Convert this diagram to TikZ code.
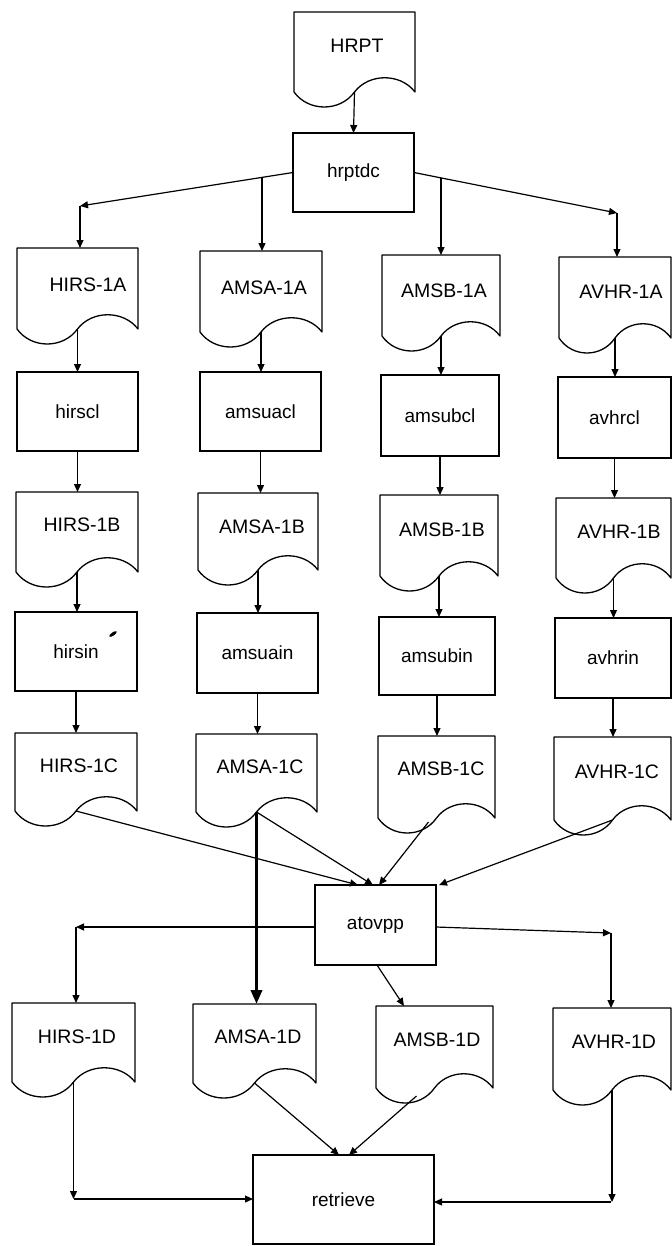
\documentclass[tikz,border=0pt]{standalone}
\usepackage{fontspec}
\setsansfont{Liberation Sans}
\usetikzlibrary{arrows.meta,calc}
\tikzset{
  shapeline/.style={line width=1.3bp, draw=black, line join=round},
  anchorbox/.style={inner sep=0pt, outer sep=0pt, rectangle},
  lbl/.style={font=\sffamily\fontsize{19.5bp}{22bp}\selectfont, inner sep=0pt},
  procbox/.style={draw=black, line width=1.3bp, inner sep=0pt, outer sep=0pt, rectangle,
                  font=\sffamily\fontsize{19bp}{22bp}\selectfont},
  arr/.style={line width=1.2bp, -{Triangle[length=8bp,width=7bp]}},
  thickarr/.style={line width=3.6bp, -{Triangle[length=14bp,width=11bp]}},
}
% document shape: name, L, T, R, B, text x, text y, text
\newcommand{\docnode}[8]{%
  \pgfmathsetmacro{\dw}{#4-#2}%
  \pgfmathsetmacro{\dh}{#5-#3}%
  \draw[shapeline] (#2,#3) -- (#4,#3) -- (#4,#5)
     .. controls ({#4-0.12*\dw},{#5-19}) and ({#4-0.38*\dw},{#5-19}) .. ({#2+0.5*\dw},{#5})
     .. controls ({#2+0.38*\dw},{#5+20}) and ({#2+0.12*\dw},{#5+20}) .. (#2,#5) -- cycle;
  \node[anchorbox, minimum width=\dw bp, minimum height=\dh bp] (#1) at ({(#2+#4)/2},{(#3+#5)/2}) {};
  \node[lbl] at (#6,#7) {#8};
}
% process box: name, L, T, R, B, text
\newcommand{\procnode}[6]{%
  \pgfmathsetmacro{\dw}{#4-#2}%
  \pgfmathsetmacro{\dh}{#5-#3}%
  \node[procbox, minimum width=\dw bp, minimum height=\dh bp] (#1) at ({(#2+#4)/2},{(#3+#5)/2}) {#6};
}
\begin{document}
\begin{tikzpicture}[x=1bp,y=-1bp]
\useasboundingbox (0,0) rectangle (672,1246);

% ---- documents ----
\docnode{hrpt}{294}{12}{415}{92}{357}{46}{HRPT}
\docnode{hirsa}{17}{248}{138}{329}{88}{285}{HIRS-1A}
\docnode{amsaa}{200}{251}{322}{332}{264}{288}{AMSA-1A}
\docnode{amsba}{382}{255}{500}{336}{444}{291}{AMSB-1A}
\docnode{avhra}{559}{257}{671}{338}{621}{292}{AVHR-1A}

\docnode{hirsb}{16}{492}{138}{572}{82}{525}{HIRS-1B}
\docnode{amsab}{198}{493}{318}{570}{262}{527}{AMSA-1B}
\docnode{amsbb}{380}{495}{498}{576}{442}{530}{AMSB-1B}
\docnode{avhrb}{556}{498}{671}{578}{619}{532}{AVHR-1B}

\docnode{hirsc}{15}{733}{137}{811}{79}{766}{HIRS-1C}
\docnode{amsac}{196}{734}{317}{812}{260}{767}{AMSA-1C}
\docnode{amsbc}{378}{736}{495}{818}{441}{769}{AMSB-1C}
\docnode{avhrc}{554}{737}{671}{820}{617}{772}{AVHR-1C}

\docnode{hirsd}{12}{1003}{135}{1082}{77}{1037}{HIRS-1D}
\docnode{amsad}{193}{1004}{316}{1083}{258}{1037}{AMSA-1D}
\docnode{amsbd}{376}{1006}{493}{1088}{437}{1040}{AMSB-1D}
\docnode{avhrd}{553}{1008}{671}{1090}{614}{1042}{AVHR-1D}

% ---- process boxes ----
\procnode{hrptdc}{293}{133}{414}{212}{hrptdc}
\procnode{hirscl}{17}{372}{138}{451}{hirscl}
\procnode{amsuacl}{200}{372}{321}{451}{amsuacl}
\procnode{amsubcl}{381}{375}{499}{456}{amsubcl}
\procnode{avhrcl}{558}{377}{671}{458}{avhrcl}
\procnode{hirsin}{15}{612}{137}{691}{hirsin}
\procnode{amsuain}{197}{613}{318}{693}{amsuain}
\procnode{amsubin}{379}{617}{495}{695}{amsubin}
\procnode{avhrin}{555}{618}{671}{698}{avhrin}
\procnode{atovpp}{315}{885}{436}{965}{atovpp}
\procnode{retrieve}{253}{1155}{434}{1244}{retrieve}

% stray mark beside hirsin
\fill[rotate around={35:(113,634)}] (113,634) ellipse (4.5bp and 1.6bp);

% ---- top distribution ----
\draw[arr] (hrpt.south) -- (hrptdc.north);
\coordinate (cL) at (80,206);
\coordinate (cR) at (617,213);
\draw[arr] (hrptdc.west) -- (cL);
\draw[arr] (cL) -- (cL |- hirsa.north);
\coordinate (bA) at ($(hrptdc.west)!0.1455!(cL)$);
\draw[arr] (bA) -- (bA |- amsaa.north);
\draw[arr] (hrptdc.east) -- (cR);
\draw[arr] (cR) -- (cR |- avhra.north);
\coordinate (bB) at ($(hrptdc.east)!0.133!(cR)$);
\draw[arr] (bB) -- (bB |- amsba.north);

% ---- columns ----
\foreach \d/\p/\e/\q/\f in {hirsa/hirscl/hirsb/hirsin/hirsc,
                            amsaa/amsuacl/amsab/amsuain/amsac,
                            amsba/amsubcl/amsbb/amsubin/amsbc,
                            avhra/avhrcl/avhrb/avhrin/avhrc}{
  \draw[arr] (\d.south) -- (\d.south |- \p.north);
  \draw[arr] (\p.south) -- (\p.south |- \e.north);
  \draw[arr] (\e.south) -- (\e.south |- \q.north);
  \draw[arr] (\q.south) -- (\q.south |- \f.north);
}

% ---- into atovpp ----
\draw[arr] (hirsc.south) -- ($(atovpp.north west)+(43,0)$);
\draw[arr] (amsac.south) -- ($(atovpp.north west)+(58,0)$);
\draw[arr] ($(amsbc.south)+(-8,4)$) -- ($(atovpp.north west)+(64,0)$);
\draw[arr] (avhrc.south) -- ($(atovpp.north east)+(3,0)$);
\draw[thickarr] (amsac.south) -- (amsac.south |- amsad.north);

% ---- out of atovpp ----
\coordinate (dL) at (76,927);
\coordinate (dR) at (611,933);
\draw[arr] ($(atovpp.west)+(0,2)$) -- (dL);
\draw[arr] (dL) -- (dL |- hirsd.north);
\draw[arr] ($(atovpp.east)+(0,2)$) -- (dR);
\draw[arr] (dR) -- (dR |- avhrd.north);
\draw[arr] ($(atovpp.south)+(1.5,0)$) -- ($(amsbd.north west)+(28,0)$);

% ---- into retrieve ----
\coordinate (eL) at (74,1199);
\coordinate (eR) at (611,1202);
\draw[arr] (hirsd.south) -- (hirsd.south |- eL);
\draw[arr] (eL) -- (eL -| retrieve.west);
\draw[arr] (avhrd.south) -- (avhrd.south |- eR);
\draw[arr] (eR) -- (eR -| retrieve.east);
\draw[arr] (amsad.south) -- ($(retrieve.north west)+(86,0)$);
\draw[arr] ($(amsbd.south)+(-18,8)$) -- ($(retrieve.north west)+(96,0)$);
\end{tikzpicture}
\end{document}
